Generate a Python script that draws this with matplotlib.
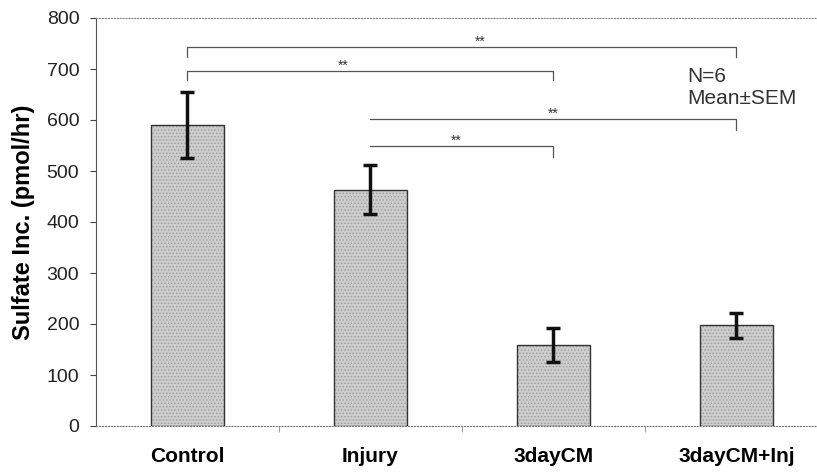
import numpy as np
import matplotlib.pyplot as plt
from matplotlib.ticker import FixedLocator

plt.rcParams['font.family'] = ['Liberation Sans', 'DejaVu Sans']
plt.rcParams['hatch.linewidth'] = 0.6

groups = ['Control', 'Injury', '3dayCM', '3dayCM+Inj']
means = [590, 463, 158, 198]
err_low = [65, 48, 33, 25]
err_high = [65, 48, 35, 24]

# brackets: (left idx, right idx, line y, left tick bottom, right tick bottom)
brackets = [
    (0, 3, 743, 723, 723),
    (0, 2, 696, 678, 678),
    (1, 3, 602, 602, 580),
    (1, 2, 549, 549, 527),
]
star_pos = [(1.6, 753), (0.85, 706), (2.0, 612), (1.47, 559)]

fig = plt.figure(figsize=(8.17, 4.72), dpi=100)
ax = fig.add_axes([96/817, 46/472, 1 - 96/817, 408/472])

x = np.arange(len(groups))
# stippled fill, then outline on top
ax.bar(x, means, width=0.4, color='#cdcdcd', edgecolor='#9c9c9c', hatch='.....',
       linewidth=0, zorder=2)
ax.bar(x, means, width=0.4, fill=False, edgecolor='#333333', linewidth=1.0, zorder=2)
ax.errorbar(x, means, yerr=[err_low, err_high], fmt='none', ecolor='#111111',
            elinewidth=2.5, capsize=5, capthick=2.5, zorder=3)

for (a, b, y, ya, yb) in brackets:
    ax.plot([a, a, b, b], [ya, y, y, yb], color='#555555', lw=0.9, zorder=3)
for sx, sy in star_pos:
    ax.text(sx, sy, '**', ha='center', va='center', fontsize=10, color='#333333')

ax.text(2.73, 663, 'N=6\nMean\u00b1SEM', ha='left', va='center', fontsize=15,
        color='#333333', linespacing=1.2)

ax.set_xlim(-0.5, 3.44)
ax.set_ylim(0, 800)
ax.set_yticks(np.arange(0, 801, 100))
ax.set_xticks(x)
ax.set_xticklabels(groups, fontsize=15, fontweight='bold')
ax.tick_params(axis='x', length=0, pad=15)
ax.xaxis.set_minor_locator(FixedLocator([0.5, 1.5, 2.5]))
ax.tick_params(axis='x', which='minor', length=4, color='#888888')
ax.tick_params(axis='y', labelsize=14, length=4, pad=8, color='#444444', labelcolor='#222222')
ax.set_ylabel('Sulfate Inc. (pmol/hr)', fontsize=17, fontweight='bold', labelpad=8)

ax.spines['right'].set_visible(False)
ax.spines['top'].set_linestyle(':')
ax.spines['top'].set_color('#888888')
ax.spines['bottom'].set_linestyle(':')
ax.spines['bottom'].set_color('#777777')
ax.spines['left'].set_color('#555555')

fig.savefig('out.png', dpi=100)
